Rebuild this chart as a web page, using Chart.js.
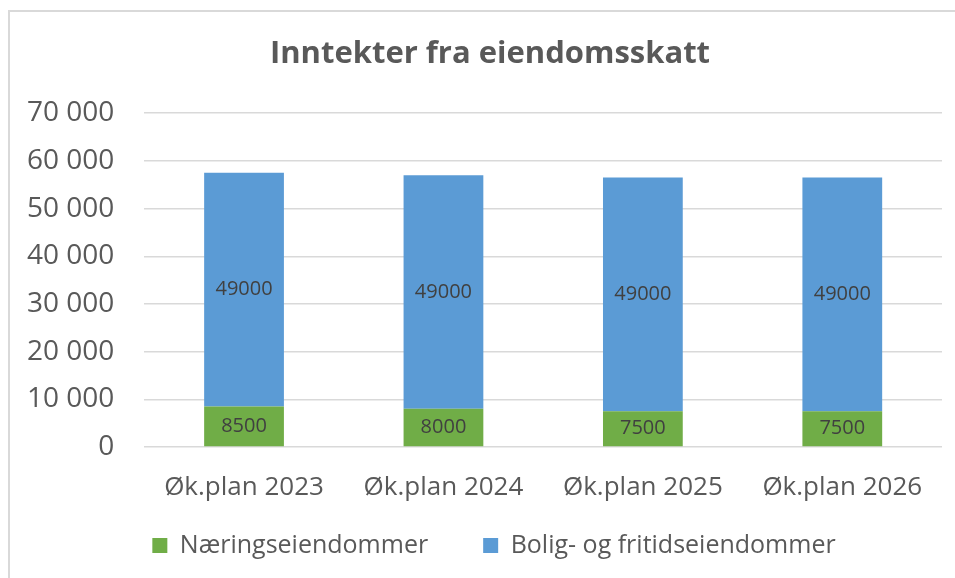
<!DOCTYPE html>
<html>
<head>
<meta charset="utf-8">
<script src="https://cdn.jsdelivr.net/npm/chart.js@4"></script>
<style>
  body { margin: 0; background: #fff; }
  #wrap { position: relative; width: 955px; height: 578px; }
  #frame { position: absolute; left: 8px; top: 10px; right: 0; bottom: 0;
           border-top: 2px solid #d9d9d9; border-left: 2px solid #d9d9d9; pointer-events: none; }
</style>
</head>
<body>
<div id="wrap">
  <canvas id="taxChart" width="955" height="578"></canvas>
  <div id="frame"></div>
</div>
<script>
const categories = ["Øk.plan 2023", "Øk.plan 2024", "Øk.plan 2025", "Øk.plan 2026"];
const naering = [8500, 8000, 7500, 7500];
const bolig = [49000, 49000, 49000, 49000];
const yTicks = [0, 10000, 20000, 30000, 40000, 50000, 60000, 70000];

const font = "'Open Sans', sans-serif";
const textColor = "#595959";

function spaced(v) {
    return String(v).replace(/\B(?=(\d{3})+(?!\d))/g, " ");
}

// draws the value in the middle of each bar segment
const barLabels = {
    id: "barLabels",
    afterDatasetsDraw(chart) {
        const ctx = chart.ctx;
        ctx.save();
        ctx.font = "20px " + font;
        ctx.fillStyle = "#404040";
        ctx.textAlign = "center";
        ctx.textBaseline = "middle";
        chart.data.datasets.forEach((ds, i) => {
            chart.getDatasetMeta(i).data.forEach((bar, j) => {
                const p = bar.getProps(["x", "y", "base"], true);
                ctx.fillText(ds.data[j], p.x, (p.y + p.base) / 2);
            });
        });
        ctx.restore();
    }
};

// title and legend sit a bit right of the canvas centre, legend pulled up
function moveBox(box, centerX, dy) {
    const dx = centerX - (box.left + box.right) / 2;
    box.left += dx;
    box.right += dx;
    box.top += dy;
    box.bottom += dy;
}
const boxShift = {
    id: "boxShift",
    afterLayout(chart) {
        moveBox(chart.titleBlock, 490, 0);
        moveBox(chart.legend, 494, -26);
    }
};

new Chart(document.getElementById("taxChart"), {
    type: "bar",
    data: {
        labels: categories,
        datasets: [{
            label: "Næringseiendommer",
            data: naering,
            backgroundColor: "#70ad47",
            barPercentage: 0.4,
            categoryPercentage: 1
        }, {
            label: "Bolig- og fritidseiendommer",
            data: bolig,
            backgroundColor: "#5b9bd5",
            barPercentage: 0.4,
            categoryPercentage: 1
        }]
    },
    options: {
        responsive: false,
        animation: false,
        layout: { padding: { left: -3, right: 13, top: 36, bottom: -16 } },
        plugins: {
            title: {
                display: true,
                text: "Inntekter fra eiendomsskatt",
                color: textColor,
                font: { family: font, size: 31, weight: "bold" },
                padding: { top: 0, bottom: 40 }
            },
            legend: {
                position: "bottom",
                labels: {
                    color: textColor,
                    font: { family: font, size: 25 },
                    boxWidth: 15,
                    boxHeight: 15,
                    padding: 55
                }
            },
            tooltip: { enabled: false }
        },
        scales: {
            x: {
                stacked: true,
                grid: { display: false, drawTicks: false },
                border: { display: false },
                ticks: { color: textColor, font: { family: font, size: 26 }, padding: 25 },
                afterFit: axis => { axis.height = 57; }
            },
            y: {
                stacked: true,
                min: 0,
                max: 70000,
                afterBuildTicks: axis => { axis.ticks = yTicks.map(v => ({ value: v })); },
                grid: { color: "#d9d9d9", lineWidth: 1.5, drawTicks: false },
                border: { display: false },
                ticks: {
                    color: textColor,
                    font: { family: font, size: 28 },
                    padding: 30,
                    callback: v => spaced(v)
                }
            }
        }
    },
    plugins: [barLabels, boxShift]
});
</script>
</body>
</html>
